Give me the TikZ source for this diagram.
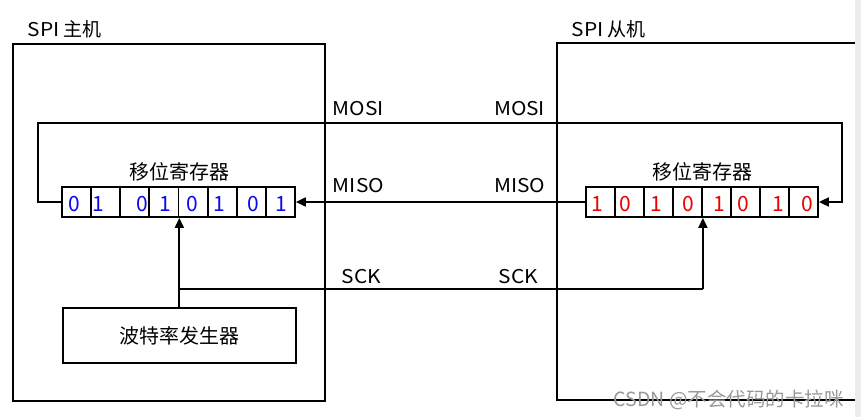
\documentclass[tikz,border=0pt]{standalone}
\usepackage{fontspec}
\setmainfont{Noto Sans CJK SC}
\newfontfamily\widelatin[FakeStretch=1.1]{Noto Sans CJK SC}
\usetikzlibrary{arrows.meta}
\definecolor{bitblue}{RGB}{10,10,240}
\definecolor{bitred}{RGB}{235,0,0}
\begin{document}
\begin{tikzpicture}[x=1pt,y=-1pt,line width=1.8pt,
  arr/.style={-{Triangle[length=10pt,width=9pt]}},
  box/.style={draw,line width=1.8pt,inner sep=0pt},
  cell/.style={draw,line width=1.8pt,minimum width=29pt,minimum height=30pt,inner sep=0pt},
  lbl/.style={font=\fontsize{19}{22}\selectfont,inner sep=0pt},
  sig/.style={font=\widelatin\fontsize{19}{22}\selectfont,inner sep=0pt},
  cjk/.style={font=\fontsize{20}{24}\selectfont,inner sep=0pt},
  bit/.style={font=\fontsize{21}{24}\selectfont,inner sep=0pt}]
\useasboundingbox (0,0) rectangle (861,417);
\fill[white] (0,0) rectangle (861,417);
% master box
\node[box,minimum width=312pt,minimum height=357pt,anchor=north west] (master) at (12,43) {};
\node[lbl,anchor=west] (mtitle) at (27,29) {{\widelatin SPI} 主机};
% slave box (open to the right)
\coordinate (slaveNW) at (557,43);
\coordinate (slaveSW) at (557,400);
\draw (855,43) -- (slaveNW) -- (slaveSW) -- (855,400);
\node[lbl,anchor=west] (stitle) at (571,29) {{\widelatin SPI} 从机};
% master register
\foreach \i in {1,...,8}
  \node[cell] (m\i) at ({62+29.125*(\i-0.5)},202) {};
\foreach \x/\d [count=\k] in {74/0,98/1,142/0,165/1,192/0,219/1,253/0,281/1}
  \node[bit,text=bitblue] (mb\k) at (\x,204) {\d};
\node[cjk] (mreg) at (179,172) {移位寄存器};
% slave register
\foreach \i in {1,...,8}
  \node[cell] (s\i) at ({586+29*(\i-0.5)},202) {};
\foreach \x/\d [count=\k] in {597/1,625/0,656/1,688/0,719/1,743/0,778/1,807/0}
  \node[bit,text=bitred] (sb\k) at (\x,204) {\d};
\node[cjk] (sreg) at (702,172) {移位寄存器};
% baud rate generator
\node[box,minimum width=233pt,minimum height=55pt,anchor=north west] (baud) at (62,307) {};
\node[cjk] (baudtxt) at (baud.center) {波特率发生器};
% MOSI
\coordinate (mosiL) at (38,123);
\coordinate (mosiR) at (842,202);
\draw[arr] (m1.west) -| (mosiL) -| (mosiR) -- (s8.east);
\node[sig,anchor=base west] (mosiM) at (332,115) {MOSI};
\node[sig,anchor=base east] (mosiS) at (546,115) {MOSI};
% MISO
\draw[arr] (s1.west) -- (m8.east);
\node[sig,anchor=base west] (misoM) at (332,192) {MISO};
\node[sig,anchor=base east] (misoS) at (546,192) {MISO};
% SCK
\coordinate (sckJ) at (m4.south east |- 0,289);
\coordinate (sckR) at (s4.south east |- 0,289);
\draw (baud.north -| sckJ) -- (sckJ) -- (sckR);
\draw[arr] (sckJ) -- (m4.south east);
\draw[arr] (sckR) -- (s4.south east);
\node[sig,anchor=base west] (sckM) at (341,283) {SCK};
\node[sig,anchor=base east] (sckS) at (539,283) {SCK};
% right strip and watermark
\fill[black!7] (855,0) rectangle (861,417);
\node[font=\fontsize{19.5}{24}\selectfont,text=black!40,inner sep=0pt,anchor=west] (wm) at (613,400) {CSDN @不会代码的卡拉咪};
\end{tikzpicture}
\end{document}
